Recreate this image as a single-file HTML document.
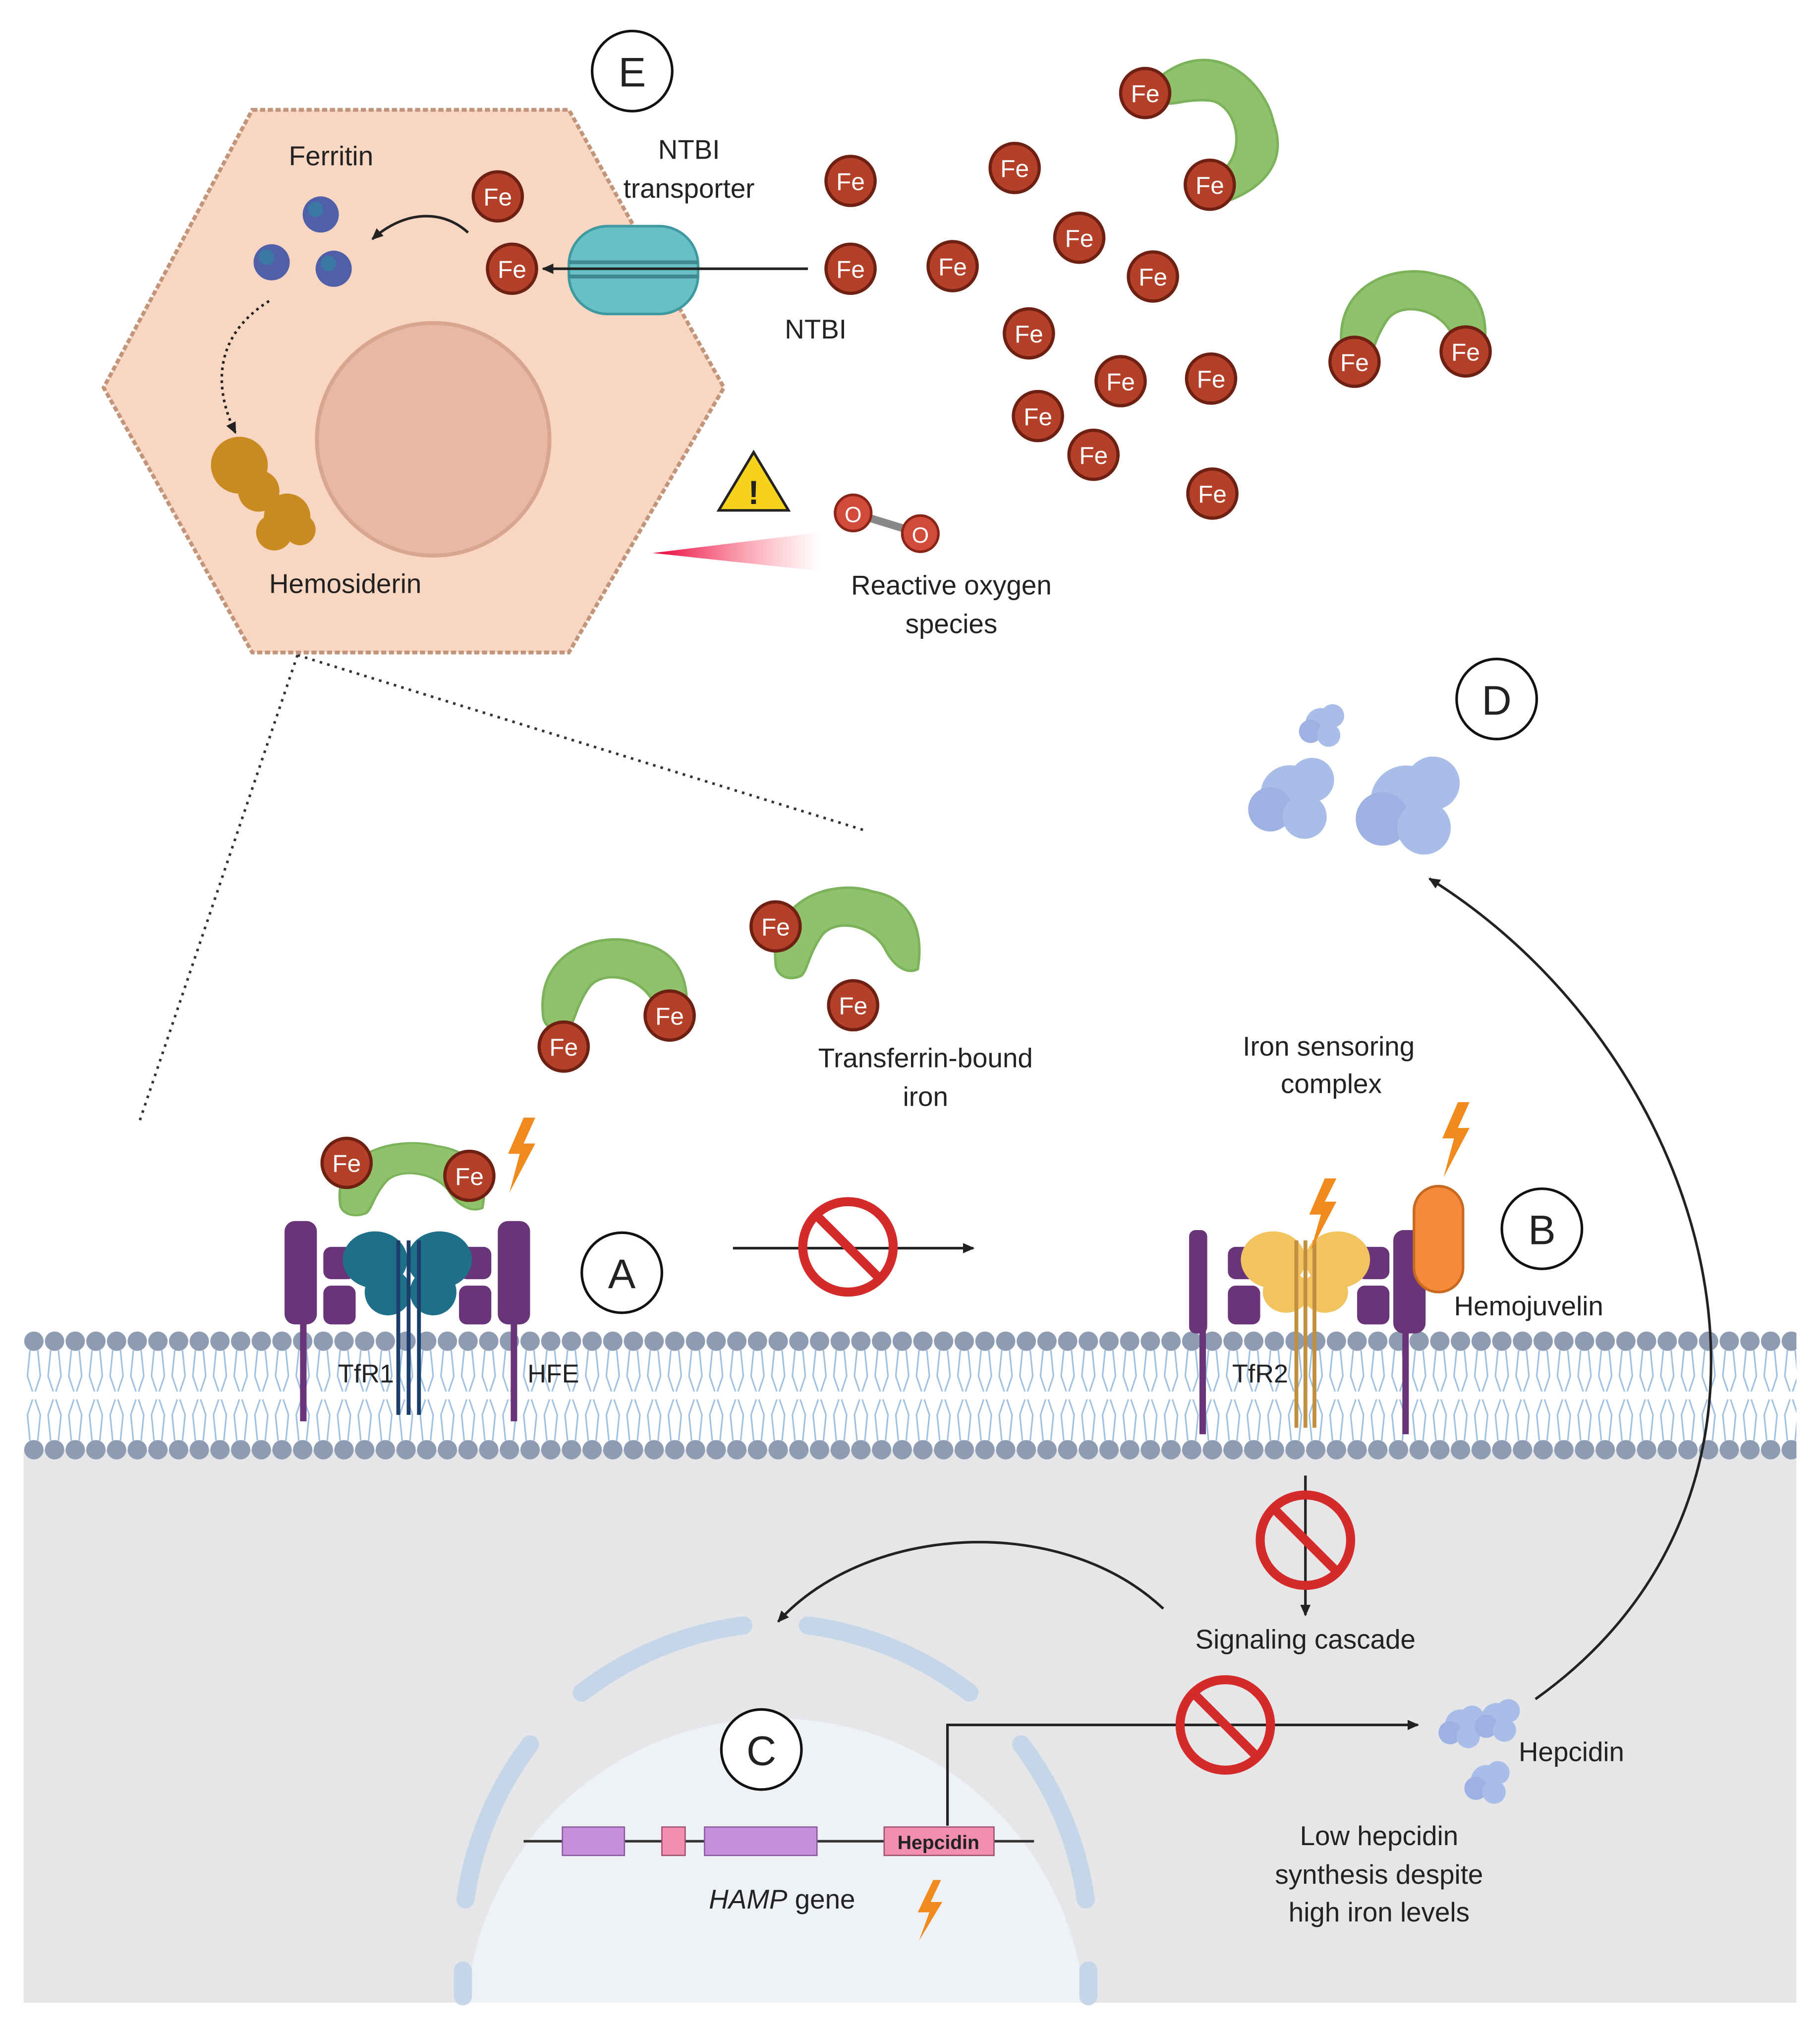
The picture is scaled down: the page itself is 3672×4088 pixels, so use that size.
<!DOCTYPE html>
<html><head><meta charset="utf-8"><style>html,body{margin:0;padding:0;background:#fff;width:3672px;height:4088px;overflow:hidden}svg{display:block}text{font-family:"Liberation Sans",sans-serif;fill:#222}</style></head>
<body>
<svg width="3672" height="4088" viewBox="0 0 1408 1568" xmlns="http://www.w3.org/2000/svg">
<defs>
<marker id="ah" markerWidth="10" markerHeight="10" refX="8" refY="5" orient="auto" markerUnits="userSpaceOnUse"><path d="M0,1 L9,5 L0,9 z" fill="#222"/></marker>
<linearGradient id="ros" x1="0" x2="1"><stop offset="0" stop-color="#e8003a"/><stop offset="1" stop-color="#ff6070" stop-opacity="0"/></linearGradient>
<g id="fe"><circle r="19" fill="#b4402a" stroke="#6e2012" stroke-width="2.5"/><text y="7" text-anchor="middle" font-size="19" style="fill:#fff">Fe</text></g>
<g id="no"><circle r="35" fill="none" stroke="#d42a2a" stroke-width="7"/><line x1="-24" y1="-24" x2="24" y2="24" stroke="#d42a2a" stroke-width="7"/></g>
<g id="tf"><path d="M-55,20 C-60,-30 -10,-45 20,-35 C50,-30 60,-5 55,25 C45,30 35,20 30,10 C20,-10 -10,-15 -20,0 C-30,15 -30,25 -35,30 C-45,35 -55,30 -55,20 Z" fill="#8fc26a" stroke="#7bb35a" stroke-width="2"/></g>
<g id="hep"><circle r="12" fill="#a8bde8"/><circle cx="9" cy="-6" r="9" fill="#a8bde8"/><circle cx="-8" cy="6" r="9" fill="#9db2e2"/><circle cx="6" cy="9" r="9" fill="#a8bde8"/></g>
<pattern id="tails" width="16" height="70" patternUnits="userSpaceOnUse" x="18" y="1045"><path d="M5,0 L3,20 L7,32 M11,0 L13,20 L9,32 M5,70 L3,50 L7,38 M11,70 L13,50 L9,38" stroke="#9fc0e0" stroke-width="1.2" fill="none"/></pattern>
<pattern id="bd" width="16" height="20" patternUnits="userSpaceOnUse" x="18" y="1028"><circle cx="8" cy="10" r="7.5" fill="#8d9cb3"/></pattern>
<pattern id="bd2" width="16" height="20" patternUnits="userSpaceOnUse" x="18" y="1112"><circle cx="8" cy="10" r="7.5" fill="#8d9cb3"/></pattern>
</defs>
<rect x="18" y="1080" width="1372" height="470" fill="#e6e6e8"/>
<rect x="18" y="1040" width="1372" height="82" fill="#fff"/>
<rect x="18" y="1045" width="1372" height="70" fill="url(#tails)"/>
<rect x="18" y="1028" width="1372" height="20" fill="url(#bd)"/>
<rect x="18" y="1112" width="1372" height="20" fill="url(#bd2)"/>

<!-- nucleus -->
<circle cx="600" cy="1570" r="240" fill="#eef2f6"/>
<rect x="0" y="1550" width="1408" height="18" fill="#fff"/>
<g fill="none" stroke="#c4d6e8" stroke-width="14" stroke-linecap="round">
<path d="M450,1310 A260,260 0 0 1 575,1258"/>
<path d="M625,1258 A260,260 0 0 1 750,1310"/>
<path d="M790,1350 A260,260 0 0 1 840,1470"/>
<path d="M410,1350 A260,260 0 0 0 360,1470"/>
<path d="M358,1525 L358,1545 M842,1525 L842,1545"/>
</g>
<!-- gene -->
<line x1="405" y1="1425" x2="800" y2="1425" stroke="#333" stroke-width="2"/>
<rect x="435" y="1414" width="48" height="22" fill="#c890dc" stroke="#8a5aa0"/>
<rect x="512" y="1414" width="18" height="22" fill="#f28fae" stroke="#a05070"/>
<rect x="545" y="1414" width="87" height="22" fill="#c890dc" stroke="#8a5aa0"/>
<rect x="684" y="1414" width="85" height="22" fill="#f28fae" stroke="#a05070"/>
<text x="726" y="1431" text-anchor="middle" font-size="15" font-weight="bold">Hepcidin</text>
<text x="605" y="1477" text-anchor="middle" font-size="21"><tspan font-style="italic">HAMP</tspan> gene</text>
<path d="M722,1455 l-12,25 h9 l-8,22 l18,-30 h-9 l8,-17 z" fill="#f08a1c"/>
<polyline points="733,1413 733,1335 1097,1335" fill="none" stroke="#222" stroke-width="2" marker-end="url(#ah)"/>
<use href="#no" x="948" y="1335"/>
<g transform="translate(1130,1335)"><use href="#hep"/></g>
<g transform="translate(1158,1330)"><use href="#hep"/></g>
<g transform="translate(1150,1378)"><use href="#hep"/></g>
<text x="1175" y="1363" font-size="21">Hepcidin</text>
<text x="1067" y="1428" text-anchor="middle" font-size="21">Low hepcidin</text>
<text x="1067" y="1458" text-anchor="middle" font-size="21">synthesis despite</text>
<text x="1067" y="1487" text-anchor="middle" font-size="21">high iron levels</text>
<text x="1010" y="1276" text-anchor="middle" font-size="21">Signaling cascade</text>
<line x1="1010" y1="1142" x2="1010" y2="1250" stroke="#222" stroke-width="2" marker-end="url(#ah)"/>
<use href="#no" x="1010" y="1192"/>
<path d="M900,1245 C820,1170 670,1180 602,1255" fill="none" stroke="#222" stroke-width="2" marker-end="url(#ah)"/>
<path d="M1188,1315 C1420,1150 1330,820 1106,680" fill="none" stroke="#222" stroke-width="2" marker-end="url(#ah)"/>

<!-- TfR1 complex -->
<g fill="#6a3478">
<rect x="385" y="945" width="25" height="80" rx="8"/>
<rect x="220" y="945" width="25" height="80" rx="8"/>
<rect x="250" y="965" width="25" height="25" rx="6"/><rect x="250" y="995" width="25" height="30" rx="6"/>
<rect x="355" y="965" width="25" height="25" rx="6"/><rect x="355" y="995" width="25" height="30" rx="6"/>
<rect x="232" y="1020" width="5" height="80"/><rect x="395" y="1020" width="5" height="80"/>
</g>
<g fill="#1e6f8a"><ellipse cx="290" cy="975" rx="25" ry="22"/><ellipse cx="340" cy="975" rx="25" ry="22"/><ellipse cx="300" cy="1000" rx="18" ry="18"/><ellipse cx="335" cy="1000" rx="18" ry="18"/></g>
<g stroke="#1b3f6a" stroke-width="3"><line x1="308" y1="960" x2="308" y2="1095"/><line x1="316" y1="960" x2="316" y2="1095"/><line x1="324" y1="960" x2="324" y2="1095"/></g>
<g transform="translate(318,915) scale(1,0.8)"><use href="#tf"/></g>
<use href="#fe" x="268" y="900"/><use href="#fe" x="363" y="910"/>
<path d="M405,865 l-12,28 h9 l-8,30 l20,-38 h-9 l9,-20 z" fill="#f08a1c"/>
<text x="283" y="1070" text-anchor="middle" font-size="20">TfR1</text>
<text x="428" y="1070" text-anchor="middle" font-size="20">HFE</text>
<circle cx="481" cy="985" r="31" fill="#fff" stroke="#111" stroke-width="2"/><text x="481" y="997" text-anchor="middle" font-size="32">A</text>
<line x1="567" y1="966" x2="753" y2="966" stroke="#222" stroke-width="2" marker-end="url(#ah)"/>
<use href="#no" x="656" y="965"/>

<!-- TfR2 complex -->
<g fill="#6a3478">
<rect x="920" y="952" width="14" height="80" rx="5"/>
<rect x="950" y="965" width="25" height="25" rx="6"/><rect x="950" y="995" width="25" height="30" rx="6"/>
<rect x="1050" y="965" width="25" height="25" rx="6"/><rect x="1050" y="995" width="25" height="30" rx="6"/>
<rect x="1078" y="952" width="25" height="80" rx="8"/>
<rect x="928" y="1020" width="5" height="90"/><rect x="1085" y="1020" width="5" height="90"/>
</g>
<g fill="#f2c460"><ellipse cx="985" cy="975" rx="25" ry="22"/><ellipse cx="1035" cy="975" rx="25" ry="22"/><ellipse cx="995" cy="1000" rx="18" ry="16"/><ellipse cx="1025" cy="1000" rx="18" ry="16"/></g>
<g stroke="#c09040" stroke-width="3"><line x1="1003" y1="960" x2="1003" y2="1105"/><line x1="1010" y1="960" x2="1010" y2="1105"/><line x1="1017" y1="960" x2="1017" y2="1105"/></g>
<rect x="1094" y="918" width="38" height="82" rx="19" fill="#f58a3c" stroke="#c76a20" stroke-width="2"/>
<path d="M1025,912 l-12,28 h9 l-8,28 l20,-38 h-9 l9,-18 z" fill="#f08a1c"/>
<path d="M1128,853 l-12,28 h9 l-8,30 l20,-38 h-9 l9,-20 z" fill="#f08a1c"/>
<text x="975" y="1070" text-anchor="middle" font-size="20">TfR2</text>
<text x="1125" y="1018" font-size="21">Hemojuvelin</text>
<circle cx="1193" cy="951" r="31" fill="#fff" stroke="#111" stroke-width="2"/><text x="1193" y="963" text-anchor="middle" font-size="32">B</text>
<text x="1028" y="817" text-anchor="middle" font-size="21">Iron sensoring</text>
<text x="1030" y="846" text-anchor="middle" font-size="21">complex</text>
<circle cx="589" cy="1354" r="31" fill="#fff" stroke="#111" stroke-width="2"/><text x="589" y="1366" text-anchor="middle" font-size="32">C</text>

<!-- transferrin middle -->
<g transform="translate(475,765)"><use href="#tf"/></g>
<use href="#fe" x="436" y="810"/><use href="#fe" x="518" y="786"/>
<g transform="translate(655,725)"><use href="#tf"/></g>
<use href="#fe" x="600" y="717"/><use href="#fe" x="660" y="778"/>
<text x="716" y="826" text-anchor="middle" font-size="21">Transferrin-bound</text>
<text x="716" y="856" text-anchor="middle" font-size="21">iron</text>

<!-- D -->
<circle cx="1158" cy="541" r="31" fill="#fff" stroke="#111" stroke-width="2"/><text x="1158" y="553" text-anchor="middle" font-size="32">D</text>
<g transform="translate(1022,560)"><use href="#hep"/></g>
<g transform="translate(998,615) scale(1.9)"><use href="#hep"/></g>
<g transform="translate(1088,620) scale(2.3)"><use href="#hep"/></g>

<!-- dotted -->
<line x1="230" y1="507" x2="107" y2="870" stroke="#333" stroke-width="2" stroke-dasharray="2 4"/>
<line x1="230" y1="507" x2="670" y2="643" stroke="#333" stroke-width="2" stroke-dasharray="2 4"/>

<!-- hepatocyte -->
<polygon points="195,85 440,85 560,300 440,505 195,505 80,300" fill="#f9d6c2" stroke="#c2957a" stroke-width="3" stroke-dasharray="4 2"/>
<circle cx="335" cy="340" r="90" fill="#e7b8a3" stroke="#d9a58f" stroke-width="3"/>
<path d="M505,428 L635,412 L635,442 Z" fill="url(#ros)"/>
<text x="256" y="128" text-anchor="middle" font-size="21">Ferritin</text>
<g fill="#4f5fa8"><circle cx="248" cy="166" r="14"/><circle cx="210" cy="203" r="14"/><circle cx="258" cy="208" r="14"/></g>
<g fill="#2c8aa0" opacity=".6"><circle cx="244" cy="162" r="6"/><circle cx="206" cy="199" r="6"/><circle cx="254" cy="204" r="6"/></g>
<path d="M362,180 C340,160 310,165 288,185" fill="none" stroke="#222" stroke-width="2" marker-end="url(#ah)"/>
<path d="M208,233 C165,260 165,300 182,335" fill="none" stroke="#222" stroke-width="2" stroke-dasharray="2 3" marker-end="url(#ah)"/>
<g fill="#c98a22"><circle cx="185" cy="360" r="22"/><circle cx="200" cy="380" r="16"/><circle cx="222" cy="400" r="18"/><circle cx="212" cy="412" r="14"/><circle cx="232" cy="410" r="12"/></g>
<text x="267" y="459" text-anchor="middle" font-size="21">Hemosiderin</text>
<use href="#fe" x="385" y="152"/><use href="#fe" x="396" y="208"/>
<g><rect x="440" y="175" width="100" height="68" rx="30" fill="#68c0c6" stroke="#3e9aa0" stroke-width="2"/><line x1="440" y1="203" x2="540" y2="203" stroke="#3e8a90" stroke-width="3"/><line x1="440" y1="214" x2="540" y2="214" stroke="#3e8a90" stroke-width="3"/></g>
<line x1="625" y1="208" x2="420" y2="208" stroke="#222" stroke-width="2" marker-end="url(#ah)"/>
<text x="533" y="123" text-anchor="middle" font-size="21">NTBI</text>
<text x="533" y="153" text-anchor="middle" font-size="21">transporter</text>
<text x="631" y="262" text-anchor="middle" font-size="21">NTBI</text>
<circle cx="489" cy="55" r="31" fill="#fff" stroke="#111" stroke-width="2"/><text x="489" y="67" text-anchor="middle" font-size="32">E</text>
<path d="M583,350 L610,395 L556,395 Z" fill="#f7d21c" stroke="#222" stroke-width="2"/>
<text x="583" y="390" text-anchor="middle" font-size="26" font-weight="bold">!</text>
<line x1="660" y1="397" x2="712" y2="413" stroke="#888" stroke-width="6"/>
<circle cx="660" cy="397" r="14" fill="#d14a3a" stroke="#8a2418" stroke-width="2"/><text x="660" y="404" text-anchor="middle" font-size="17" style="fill:#fff">O</text>
<circle cx="712" cy="413" r="14" fill="#d14a3a" stroke="#8a2418" stroke-width="2"/><text x="712" y="420" text-anchor="middle" font-size="17" style="fill:#fff">O</text>
<text x="736" y="460" text-anchor="middle" font-size="21">Reactive oxygen</text>
<text x="736" y="490" text-anchor="middle" font-size="21">species</text>

<!-- free Fe -->
<use href="#fe" x="658" y="140"/><use href="#fe" x="658" y="208"/><use href="#fe" x="785" y="130"/><use href="#fe" x="835" y="184"/><use href="#fe" x="737" y="206"/><use href="#fe" x="892" y="214"/><use href="#fe" x="796" y="258"/><use href="#fe" x="867" y="295"/><use href="#fe" x="937" y="293"/><use href="#fe" x="803" y="322"/><use href="#fe" x="846" y="352"/><use href="#fe" x="938" y="382"/>
<g transform="translate(945,95) rotate(60)"><use href="#tf"/></g>
<use href="#fe" x="886" y="72"/><use href="#fe" x="936" y="143"/>
<g transform="translate(1093,248)"><use href="#tf"/></g>
<use href="#fe" x="1048" y="280"/><use href="#fe" x="1134" y="272"/>
</svg>
</body></html>
